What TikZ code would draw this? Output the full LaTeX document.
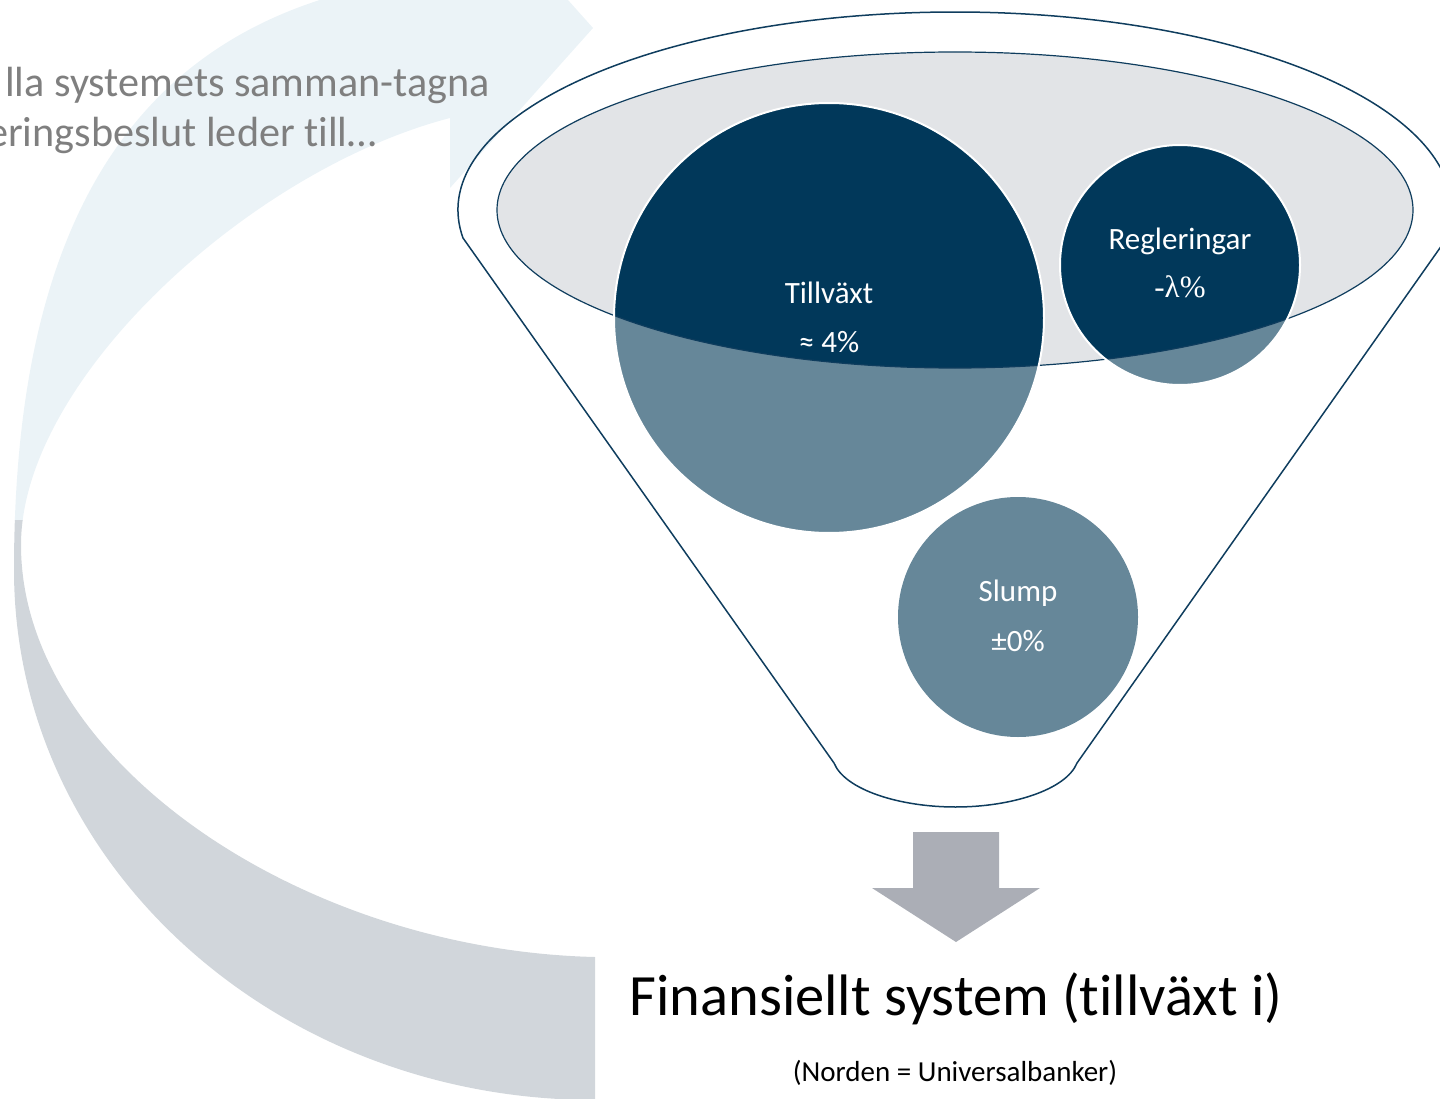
\documentclass[tikz,border=0pt]{standalone}
\usepackage{fontspec}
\setmainfont{Carlito}[Ligatures={TeX,NoCommon}]
\newfontfamily\greekserif{Liberation Serif}
\definecolor{loopblue}{HTML}{EBF3F7}
\definecolor{loopgrey}{HTML}{D1D6DB}
\definecolor{rimgrey}{HTML}{E2E4E7}
\definecolor{funnelblue}{HTML}{0F3D5E}
\definecolor{bubbledark}{HTML}{01385A}
\definecolor{bubblelight}{HTML}{668799}
\definecolor{pointergrey}{HTML}{ABAEB6}
\definecolor{captiongrey}{HTML}{7F7F7F}

\begin{document}
\begin{tikzpicture}[x=1pt,y=-1pt]
    \tikzstyle{every node}=[inner sep=0pt,font=\fontsize{31}{37}\selectfont]
    \tikzstyle{bubbletext}=[text=white,anchor=base]
    \tikzstyle{caption}=[text=captiongrey,font=\fontsize{42.2}{50}\selectfont]
    \tikzstyle{funnel}=[draw=funnelblue,line width=1.5pt]
    \def\w{1440}
    \def\h{1099}
    \def\rbig{215}
    \def\rsmall{120}
    \useasboundingbox (0,0) rectangle (\w,\h);
    \clip (0,0) rectangle (\w,\h);
    \def\loopband{(595,1100) .. controls (274,1100) and (14,863) .. (14,570)
        .. controls (14,200) and (150,0) .. (450,-25)
        -- (450,-132) -- (593,28) -- (450,188) -- (450,118)
        .. controls (250,170) and (21,380) .. (21,545)
        .. controls (21,760) and (300,950) .. (595,957) -- cycle}
    \begin{scope}
        \clip (0,-200) rectangle (700,520);
        \fill[loopblue] \loopband;
    \end{scope}
    \begin{scope}
        \clip (0,520) rectangle (700,1200);
        \fill[loopgrey] \loopband;
    \end{scope}
    \coordinate (rim) at (955,210);
    \coordinate (growth) at (829,318);
    \coordinate (rules) at (1180,265);
    \coordinate (chance) at (1018,617);
    \fill[rimgrey] (rim) ellipse [x radius=458, y radius=158];
    \fill[bubblelight] (growth) circle (\rbig);
    \fill[bubblelight] (rules) circle (\rsmall);
    \fill[bubblelight] (chance) circle (\rsmall);
    \begin{scope}
        \clip (rim) ellipse [x radius=458, y radius=158];
        \fill[bubbledark] (growth) circle (\rbig);
        \fill[bubbledark] (rules) circle (\rsmall);
    \end{scope}
    \draw[funnelblue,line width=1.2pt] (rim) ellipse [x radius=458, y radius=158];
    \draw[white,line width=2pt] (growth) circle (\rbig);
    \draw[white,line width=2pt] (rules) circle (\rsmall);
    \draw[funnel] (463,238) arc[start angle=171.87, end angle=368.13, x radius=497, y radius=198]
        -- (1077,763) .. controls (1066,790) and (1011,807) .. (955.5,807)
        .. controls (900,807) and (845,790) .. (834,763) -- cycle;
    \fill[pointergrey] (913,832) -- (999,832) -- (999,888) -- (1040,888) -- (956,942) -- (872,888) -- (913,888) -- cycle;
    \node[bubbletext] (growthname) at (829,303) {Tillväxt};
    \node[bubbletext] (growthrate) at (829,352) {≈ 4\%};
    \node[bubbletext] (rulesname) at (1180,250) {Regleringar};
    \node[bubbletext] (rulesrate) at (1180,298) {\greekserif -λ\%};
    \node[bubbletext] (chancename) at (1018,601) {Slump};
    \node[bubbletext] (chancerate) at (1018,651) {±0\%};
    \node[caption,anchor=base west] (loopline1) at (5,97) {lla systemets samman-tagna};
    \node[caption,anchor=base east] (loopline2) at (377,147) {eringsbeslut leder till…};
    \node[anchor=base,font=\fontsize{58.5}{70}\selectfont] (system) at (956,1015) {Finansiellt system (tillväxt i)};
    \node[anchor=base,font=\fontsize{29}{35}\selectfont] (nordic) at (955,1081) {(Norden = Universalbanker)};
\end{tikzpicture}
\end{document}
